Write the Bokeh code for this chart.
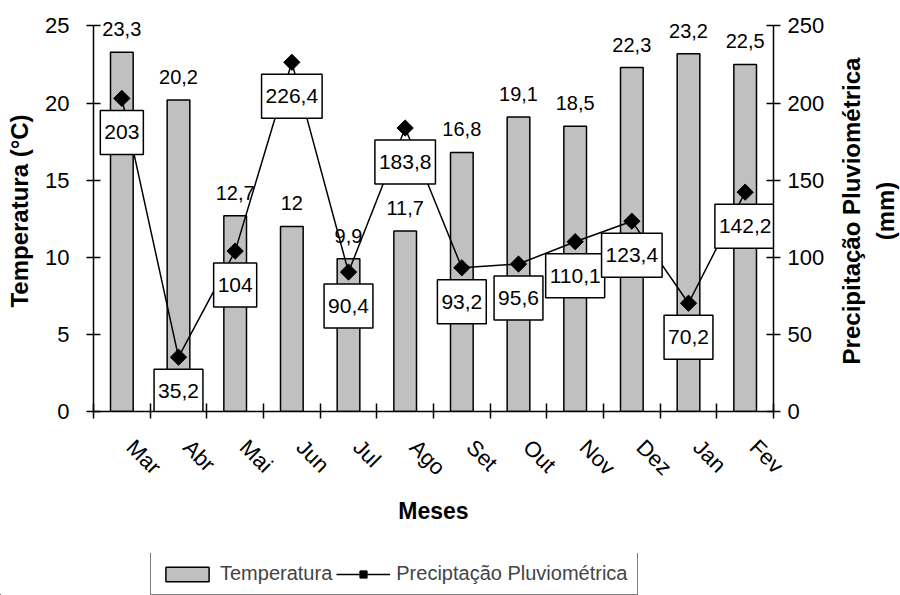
from math import pi
from bokeh.plotting import figure
from bokeh.layouts import row, column
from bokeh.models import (Range1d, LinearAxis, FixedTicker, Legend,
                          LegendItem, ColumnDataSource)
from bokeh.core.properties import value
from bokeh.embed import file_html
from bokeh.resources import INLINE

# ---- data ----
meses = ["Mar", "Abr", "Mai", "Jun", "Jul", "Ago", "Set", "Out", "Nov", "Dez", "Jan", "Fev"]
temperatura = [23.3, 20.2, 12.7, 12, 9.9, 11.7, 16.8, 19.1, 18.5, 22.3, 23.2, 22.5]
precipitacao = [203, 35.2, 104, 226.4, 90.4, 183.8, 93.2, 95.6, 110.1, 123.4, 70.2, 142.2]
temp_ticks = [0, 5, 10, 15, 20, 25]
prec_ticks = [0, 50, 100, 150, 200, 250]


def fmt(v):
    return f"{v:g}".replace(".", ",")


FONT = "Liberation Sans"
x = [i + 0.5 for i in range(len(meses))]
label_pos = [xi + 0.15 for xi in x]  # rotated labels sit a bit right of centre
src = ColumnDataSource(dict(
    x=x, mes=meses, temp=temperatura, prec=precipitacao,
    temp_lbl=[fmt(v) for v in temperatura],
    prec_lbl=[fmt(v) for v in precipitacao],
))

# ================= main chart =================
p = figure(width=834, height=553, frame_width=680, frame_height=401,
           min_border_left=93, min_border_right=61,
           min_border_top=10, min_border_bottom=142,
           x_range=Range1d(0, len(meses)), y_range=Range1d(0, 26),
           output_backend="svg", toolbar_location=None)
p.extra_y_ranges = {"prec": Range1d(0, 260)}
p.xgrid.visible = False
p.ygrid.visible = False
p.outline_line_color = None
p.background_fill_color = "white"
p.border_fill_color = "white"

# x axis
xa = p.xaxis[0]
xa.ticker = FixedTicker(ticks=label_pos, minor_ticks=list(range(len(meses) + 1)))
xa.major_label_overrides = {xi: m for xi, m in zip(label_pos, meses)}
xa.bounds = (0, len(meses))
xa.major_tick_in = 0
xa.major_tick_out = 0
xa.minor_tick_in = 8
xa.minor_tick_out = 7
xa.minor_tick_line_color = "black"
xa.minor_tick_line_width = 1.5
xa.axis_line_color = "black"
xa.axis_line_width = 1.5
xa.major_label_orientation = -pi / 4
xa.major_label_text_font = FONT
xa.major_label_text_font_size = "22px"
xa.major_label_text_color = "black"
xa.major_label_standoff = 25
xa.axis_label = "Meses"
xa.axis_label_text_font = FONT
xa.axis_label_text_font_style = "bold"
xa.axis_label_text_font_size = "23px"
xa.axis_label_text_color = "black"
xa.axis_label_standoff = 6

# left axis
ya = p.yaxis[0]
ya.ticker = FixedTicker(ticks=temp_ticks)
ya.bounds = (0, 25)
ya.major_tick_in = 7
ya.major_tick_out = 7
ya.minor_tick_line_color = None
ya.major_tick_line_color = "black"
ya.major_tick_line_width = 1.5
ya.axis_line_color = "black"
ya.axis_line_width = 1.5
ya.major_label_text_font = FONT
ya.major_label_text_font_size = "22px"
ya.major_label_text_color = "black"
ya.major_label_standoff = 17
ya.axis_label = "Temperatura (°C)"
ya.axis_label_text_font = FONT
ya.axis_label_text_font_style = "bold"
ya.axis_label_text_font_size = "24px"
ya.axis_label_text_color = "black"
ya.axis_label_standoff = 9

# right axis (ticks only; its title is drawn by the side panel figure)
ra = LinearAxis(y_range_name="prec", ticker=FixedTicker(ticks=prec_ticks), bounds=(0, 250))
ra.major_tick_in = 7
ra.major_tick_out = 7
ra.minor_tick_line_color = None
ra.major_tick_line_color = "black"
ra.major_tick_line_width = 1.5
ra.axis_line_color = "black"
ra.axis_line_width = 1.5
ra.major_label_text_font = FONT
ra.major_label_text_font_size = "22px"
ra.major_label_text_color = "black"
ra.major_label_standoff = 7
p.add_layout(ra, "right")

# bars
p.vbar(x="x", top="temp", width=0.4, source=src,
       fill_color="#c0c0c0", line_color="black", line_width=1.5)
# line + markers
p.line("x", "prec", source=src, y_range_name="prec",
       line_color="black", line_width=1.5)
p.scatter("x", "prec", source=src, y_range_name="prec", marker="square",
          angle=pi / 4, size=11.5, fill_color="black", line_color="black")
# boxed precipitation labels
p.text("x", "prec", text="prec_lbl", source=src, y_range_name="prec",
       y_offset=34, text_align="center", text_baseline="middle",
       text_font=value(FONT), text_font_size="21px", text_color="black",
       background_fill_color="white", border_line_color="black",
       border_line_width=1.5, padding=(4, 15))
# temperature labels
p.text("x", "temp", text="temp_lbl", source=src,
       y_offset=-23, text_align="center", text_baseline="alphabetic",
       text_font=value(FONT), text_font_size="20px", text_color="black")

# ================= right title panel =================
q = figure(width=66, height=553, frame_width=1, frame_height=401,
           min_border_left=65, min_border_right=0,
           min_border_top=10, min_border_bottom=142,
           x_range=Range1d(0, 1), y_range=Range1d(0, 1),
           x_axis_location=None, y_axis_location="left",
           output_backend="svg", toolbar_location=None)
q.xgrid.visible = False
q.ygrid.visible = False
q.outline_line_color = None
q.border_fill_color = "white"
qa = q.yaxis[0]
qa.ticker = FixedTicker(ticks=[0.5])
qa.major_label_overrides = {0.5: ""}
qa.major_label_text_font_size = "1px"
qa.major_label_standoff = 0
qa.major_tick_in = 0
qa.major_tick_out = 0
qa.axis_line_color = None
qa.major_tick_line_color = None
qa.minor_tick_line_color = None
qa.axis_label = "Precipitação Pluviométrica\n(mm)"
qa.axis_label_text_font = FONT
qa.axis_label_text_font_style = "bold"
qa.axis_label_text_font_size = "24px"
qa.axis_label_text_color = "black"
qa.axis_label_text_line_height = 1.25
qa.axis_label_standoff = 4

# ================= legend strip =================
lf = figure(width=900, height=42, x_range=Range1d(100, 101), y_range=Range1d(100, 101),
            x_axis_location=None, y_axis_location=None, min_border=0,
            output_backend="svg", toolbar_location=None)
lf.xgrid.visible = False
lf.ygrid.visible = False
lf.outline_line_color = None
lf.border_fill_color = "white"
l_bar = lf.vbar(x="x", top="temp", width=0.4, source=src,
                fill_color="#c0c0c0", line_color="black", line_width=1.5)
l_line = lf.line("x", "prec", source=src, line_color="black", line_width=1.5)
l_pts = lf.scatter("x", "prec", source=src, marker="square", angle=pi / 4,
                   fill_color="black", line_color="black")
legend = Legend(items=[LegendItem(label="Temperatura", renderers=[l_bar]),
                       LegendItem(label="Preciptação Pluviométrica", renderers=[l_line, l_pts])],
                location=(150, 0), orientation="horizontal",
                border_line_color="black", border_line_width=1.5,
                label_text_font=FONT, label_text_font_size="20px",
                glyph_width=54, glyph_height=18, spacing=4, padding=9,
                label_standoff=6, margin=0, background_fill_alpha=1)
lf.add_layout(legend)

layout = column(row(p, q), lf)
open("out.html", "w").write(file_html(layout, INLINE))
